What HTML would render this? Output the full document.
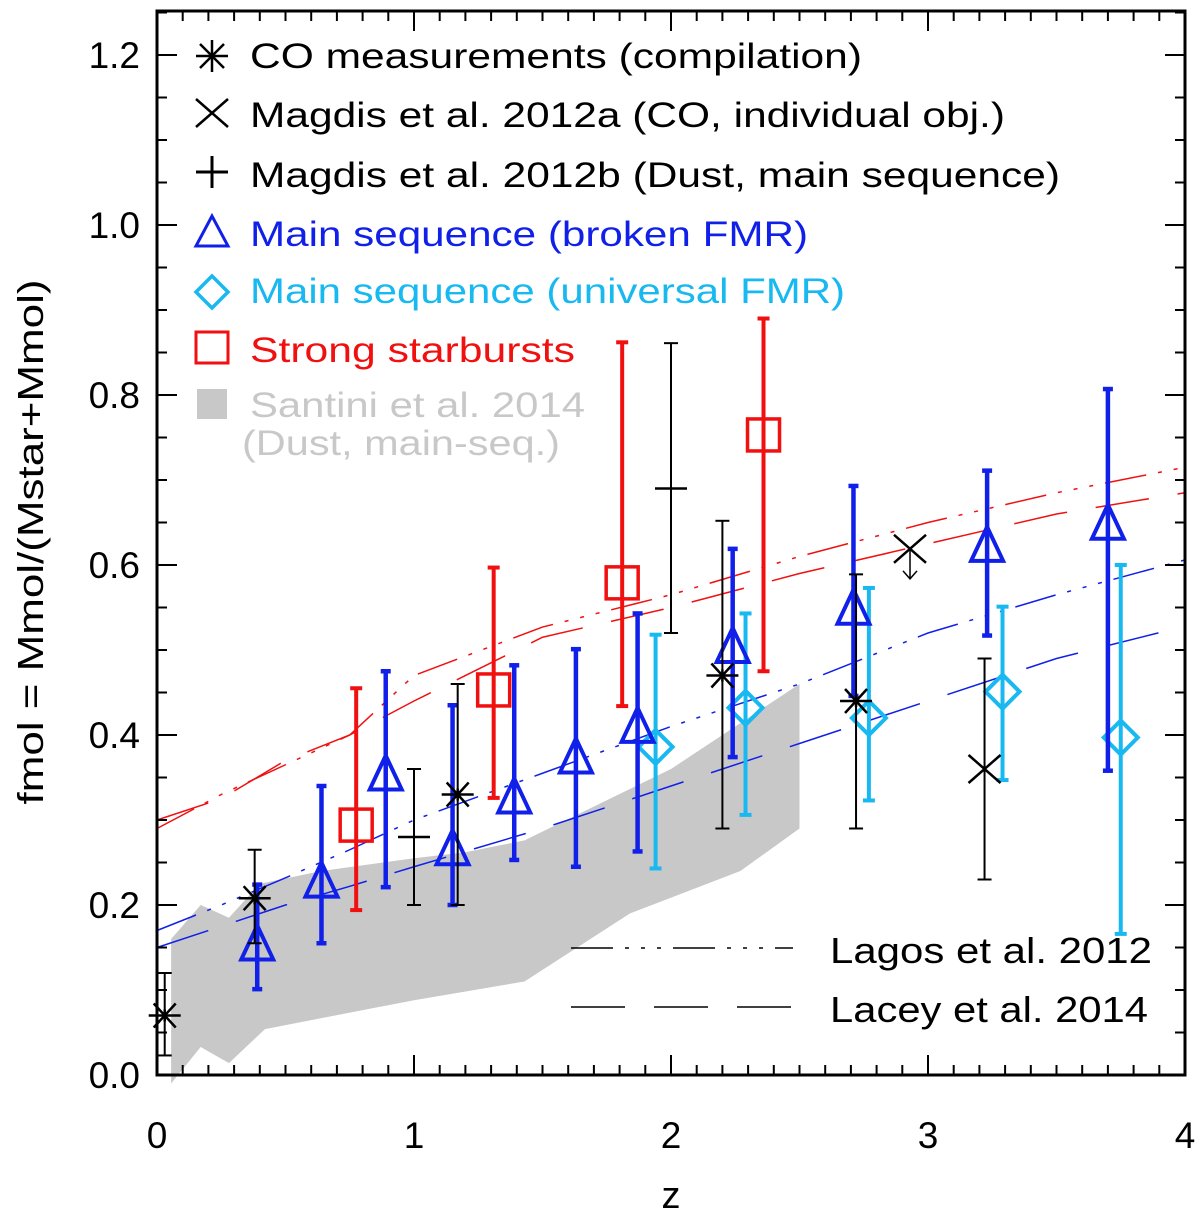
<!DOCTYPE html>
<html><head><meta charset="utf-8"><style>
html,body{margin:0;padding:0;background:#fff;}
svg{display:block;font-family:"Liberation Sans",Arial,sans-serif;}
</style></head><body>
<svg id="chart" width="1200" height="1215" viewBox="0 0 1200 1215" xmlns="http://www.w3.org/2000/svg">
<g id="band"></g>
<g id="models"></g>
<g id="points"></g>
<g id="axes"></g>
<g id="legend">
  <g>
    <g stroke="#000" stroke-width="2.5"><line x1="196" y1="56" x2="228" y2="56"/><line x1="212" y1="40" x2="212" y2="72"/><line x1="200" y1="44" x2="224" y2="68"/><line x1="224" y1="44" x2="200" y2="68"/></g>
    <text x="250" y="68" font-size="35" fill="#000" textLength="612" lengthAdjust="spacingAndGlyphs">CO measurements (compilation)</text></g>
  <g>
    <g stroke="#000" stroke-width="2.5"><line x1="196" y1="99" x2="228" y2="127"/><line x1="228" y1="99" x2="196" y2="127"/></g>
    <text x="250" y="127" font-size="35" fill="#000" textLength="755" lengthAdjust="spacingAndGlyphs">Magdis et al. 2012a (CO, individual obj.)</text></g>
  <g>
    <g stroke="#000" stroke-width="3"><line x1="196" y1="172" x2="228" y2="172"/><line x1="212" y1="156" x2="212" y2="188"/></g>
    <text x="250" y="187" font-size="35" fill="#000" textLength="810" lengthAdjust="spacingAndGlyphs">Magdis et al. 2012b (Dust, main sequence)</text></g>
  <g>
    <polygon points="212,216 196,246 228,246" fill="none" stroke="#1020e8" stroke-width="3"/>
    <text x="250" y="246" font-size="35" fill="#1020e8" textLength="558" lengthAdjust="spacingAndGlyphs">Main sequence (broken FMR)</text></g>
  <g>
    <polygon points="212,276 228,292 212,308 196,292" fill="none" stroke="#18b8f0" stroke-width="3.5"/>
    <text x="250" y="303" font-size="35" fill="#18b8f0" textLength="595" lengthAdjust="spacingAndGlyphs">Main sequence (universal FMR)</text></g>
  <g>
    <rect x="196" y="332" width="32" height="31" fill="none" stroke="#f01010" stroke-width="3"/>
    <text x="250" y="362" font-size="35" fill="#f01010" textLength="325" lengthAdjust="spacingAndGlyphs">Strong starbursts</text></g>
  <g>
    <rect x="197" y="389" width="30" height="30" fill="#c8c8c8"/>
    <text x="250" y="417" font-size="35" fill="#c8c8c8" textLength="335" lengthAdjust="spacingAndGlyphs">Santini et al. 2014</text>
    <text x="242" y="455" font-size="35" fill="#c8c8c8" textLength="318" lengthAdjust="spacingAndGlyphs">(Dust, main-seq.)</text></g>
  <g>
    <line x1="571" y1="948" x2="793" y2="948" stroke="#000" stroke-width="1.5" stroke-dasharray="42,12,4,12,4,12,4,12"/>
    <text x="830" y="963" font-size="36" fill="#000" textLength="322" lengthAdjust="spacingAndGlyphs">Lagos et al. 2012</text></g>
  <g>
    <line x1="571" y1="1007" x2="793" y2="1007" stroke="#000" stroke-width="1.5" stroke-dasharray="54,29"/>
    <text x="830" y="1022" font-size="36" fill="#000" textLength="318" lengthAdjust="spacingAndGlyphs">Lacey et al. 2014</text></g>
</g>
<text x="671" y="1208" font-size="38" text-anchor="middle">z</text>
<text transform="translate(43,542) rotate(-90)" font-size="36" text-anchor="middle" textLength="525" lengthAdjust="spacingAndGlyphs">fmol = Mmol/(Mstar+Mmol)</text>
</svg>
<script>
// ---- data ----
const xTickLabels = ["0","1","2","3","4"];
const yTickLabels = ["0.0","0.2","0.4","0.6","0.8","1.0","1.2"];
const coZ   = [0.03, 0.38, 1.17, 2.2, 2.72];
const coV   = [0.07, 0.208, 0.33, 0.47, 0.44];
const coLo  = [0.023, 0.155, 0.2, 0.29, 0.29];
const coHi  = [0.12, 0.265, 0.46, 0.652, 0.589];
const magAZ = [2.93, 3.22];
const magAV = [0.619, 0.36];
const magALo= [null, 0.23];
const magAHi= [null, 0.49];
const magBZ = [1.0, 2.0];
const magBV = [0.28, 0.69];
const magBLo= [0.2, 0.52];
const magBHi= [0.36, 0.861];
const brkZ  = [0.39, 0.64, 0.89, 1.15, 1.39, 1.63, 1.87, 2.24, 2.71, 3.23, 3.70];
const brkV  = [0.15, 0.224, 0.35, 0.262, 0.323, 0.37, 0.406, 0.50, 0.545, 0.619, 0.645];
const brkLo = [0.101, 0.155, 0.221, 0.2, 0.253, 0.245, 0.263, 0.374, 0.446, 0.517, 0.358];
const brkHi = [0.224, 0.34, 0.475, 0.435, 0.482, 0.501, 0.543, 0.619, 0.693, 0.711, 0.807];
const uniZ  = [1.94, 2.29, 2.77, 3.29, 3.75];
const uniV  = [0.386, 0.432, 0.42, 0.451, 0.397];
const uniLo = [0.243, 0.306, 0.323, 0.347, 0.166];
const uniHi = [0.518, 0.543, 0.573, 0.551, 0.60];
const sbZ   = [0.775, 1.31, 1.81, 2.36];
const sbV   = [0.294, 0.453, 0.579, 0.753];
const sbLo  = [0.194, 0.326, 0.434, 0.475];
const sbHi  = [0.455, 0.597, 0.862, 0.89];
const bandUpZ = [0.055, 0.17, 0.28, 0.4, 0.64, 1.0, 1.2, 1.43, 2.0, 2.5];
const bandUpV = [0.16, 0.2, 0.185, 0.225, 0.24, 0.255, 0.262, 0.276, 0.36, 0.46];
const bandLoZ = [2.5, 2.27, 1.84, 1.43, 1.0, 0.42, 0.28, 0.17, 0.055];
const bandLoV = [0.29, 0.24, 0.19, 0.11, 0.088, 0.054, 0.014, 0.033, -0.01];
const modelZ  = [0, 0.25, 0.5, 0.75, 1.0, 1.5, 2.0, 2.5, 3.0, 3.5, 4.0];
const redLagos = [0.29, 0.33, 0.365, 0.40, 0.47, 0.527, 0.565, 0.61, 0.65, 0.685, 0.715];
const redLacey = [0.30, 0.325, 0.37, 0.40, 0.44, 0.515, 0.55, 0.59, 0.625, 0.66, 0.685];
const bluLagos = [0.17, 0.20, 0.232, 0.265, 0.30, 0.355, 0.41, 0.46, 0.52, 0.565, 0.606];
const bluLacey = [0.15, 0.175, 0.20, 0.222, 0.245, 0.29, 0.34, 0.39, 0.44, 0.49, 0.528];

// ---- scales ----
const X0=157, X1=1185, Y0=1075, YT=11;
function sx(z){return X0 + z*(X1-X0)/4;}
function sy(v){return Y0 - v*850;}
const NS="http://www.w3.org/2000/svg";
function mk(tag, parent, attrs){const e=document.createElementNS(NS,tag);for(const k in attrs)e.setAttribute(k,attrs[k]);parent.appendChild(e);return e;}
const band=document.getElementById('band'), models=document.getElementById('models'), pts=document.getElementById('points'), axes=document.getElementById('axes');

// band
let bp=[];
bandUpZ.forEach((z,i)=>bp.push(sx(z)+','+sy(bandUpV[i])));
bandLoZ.forEach((z,i)=>bp.push(sx(z)+','+sy(bandLoV[i])));
const bpoly=mk('polygon',band,{points:bp.join(' '),fill:'#c8c8c8'});



// models
function model(vals,color,dash,name){
  const d=modelZ.map((z,i)=>(i?'L':'M')+sx(z)+','+sy(vals[i])).join(' ');
  const p=mk('path',models,{d:d,fill:'none',stroke:color,'stroke-width':1.5,'stroke-dasharray':dash});
  
  
}
model(redLagos,'#f01010','42,12,4,12,4,12,4,12','starburst-lagos-line');
model(redLacey,'#f01010','54,29','starburst-lacey-line');
model(bluLagos,'#1020e8','42,12,4,12,4,12,4,12','main-seq-lagos-line');
model(bluLacey,'#1020e8','54,29','main-seq-lacey-line');

// error bars and markers
function ebar(g,z,lo,hi,color,w,cap){
  if(lo===null)return;
  const x=sx(z);
  mk('line',g,{x1:x,y1:sy(lo),x2:x,y2:sy(hi),stroke:color,'stroke-width':w});
  mk('line',g,{x1:x-cap,y1:sy(lo),x2:x+cap,y2:sy(lo),stroke:color,'stroke-width':w});
  mk('line',g,{x1:x-cap,y1:sy(hi),x2:x+cap,y2:sy(hi),stroke:color,'stroke-width':w});
}
function series(name,Z,V,Lo,Hi,color,w,cap,draw){
  const sg=mk('g',pts,{});
  
  
  Z.forEach((z,i)=>{
    const g=mk('g',sg,{});
    
    
    ebar(g,z,Lo[i],Hi[i],color,w,cap);
    draw(g,sx(z),sy(V[i]));
  });
}
series('starbursts',sbZ,sbV,sbLo,sbHi,'#f01010',4,6,(g,x,y)=>{
  mk('rect',g,{x:x-16,y:y-16,width:32,height:32,fill:'none',stroke:'#f01010','stroke-width':3.5});});
series('main-seq-universal',uniZ,uniV,uniLo,uniHi,'#18b8f0',4,6,(g,x,y)=>{
  mk('polygon',g,{points:`${x},${y-17} ${x+17},${y} ${x},${y+17} ${x-17},${y}`,fill:'none',stroke:'#18b8f0','stroke-width':4});});
series('main-seq-broken',brkZ,brkV,brkLo,brkHi,'#1020e8',4.5,5,(g,x,y)=>{
  mk('polygon',g,{points:`${x},${y-22} ${x+16},${y+12} ${x-16},${y+12}`,fill:'none',stroke:'#1020e8','stroke-width':4});});
series('co-compilation',coZ,coV,coLo,coHi,'#000',2,7,(g,x,y)=>{
  const s=16;
  mk('line',g,{x1:x-s,y1:y,x2:x+s,y2:y,stroke:'#000','stroke-width':2.5});
  mk('line',g,{x1:x-11,y1:y-12,x2:x+11,y2:y+12,stroke:'#000','stroke-width':2.5});
  mk('line',g,{x1:x+11,y1:y-12,x2:x-11,y2:y+12,stroke:'#000','stroke-width':2.5});
  mk('line',g,{x1:x,y1:y-6,x2:x,y2:y+6,stroke:'#000','stroke-width':2.5});});
series('magdis-2012a',magAZ,magAV,magALo,magAHi,'#000',2,7,(g,x,y)=>{
  mk('line',g,{x1:x-16,y1:y-14,x2:x+16,y2:y+14,stroke:'#000','stroke-width':2.5});
  mk('line',g,{x1:x+16,y1:y-14,x2:x-16,y2:y+14,stroke:'#000','stroke-width':2.5});});
(function(){const x=sx(magAZ[0]),y=sy(magAV[0]);
  const a=mk('path',pts,{d:`M${x},${y} L${x},${y+30} M${x-7},${y+22} L${x},${y+30} L${x+7},${y+22}`,fill:'none',stroke:'#000','stroke-width':1.5});
  
  })();
series('magdis-2012b',magBZ,magBV,magBLo,magBHi,'#000',2,7,(g,x,y)=>{
  mk('line',g,{x1:x-16,y1:y,x2:x+16,y2:y,stroke:'#000','stroke-width':2.5});});

// axes
const frame=mk('rect',axes,{x:X0,y:YT,width:X1-X0,height:Y0-YT,fill:'none',stroke:'#000','stroke-width':3});


for(let i=0;i<=40;i++){
  const x=sx(i/10), L=(i%10===0)?20:10;
  mk('line',axes,{x1:x,y1:Y0,x2:x,y2:Y0-L,stroke:'#000','stroke-width':2});
  mk('line',axes,{x1:x,y1:YT,x2:x,y2:YT+L,stroke:'#000','stroke-width':2});
}
for(let i=0;i<=25;i++){
  const v=i*0.05, y=sy(v); if(y<YT)break; const L=(i%4===0)?20:10;
  mk('line',axes,{x1:X0,y1:y,x2:X0+L,y2:y,stroke:'#000','stroke-width':2});
  mk('line',axes,{x1:X1,y1:y,x2:X1-L,y2:y,stroke:'#000','stroke-width':2});
}
xTickLabels.forEach((t,i)=>{
  const e=mk('text',axes,{x:sx(i),y:1148,'font-size':37,'text-anchor':'middle'});
  e.textContent=t;
  
  
});
yTickLabels.forEach((t,i)=>{
  const e=mk('text',axes,{x:140,y:sy(i*0.2)+13,'font-size':37,'text-anchor':'end'});
  e.textContent=t;
  
  
});
</script>
</body></html>
